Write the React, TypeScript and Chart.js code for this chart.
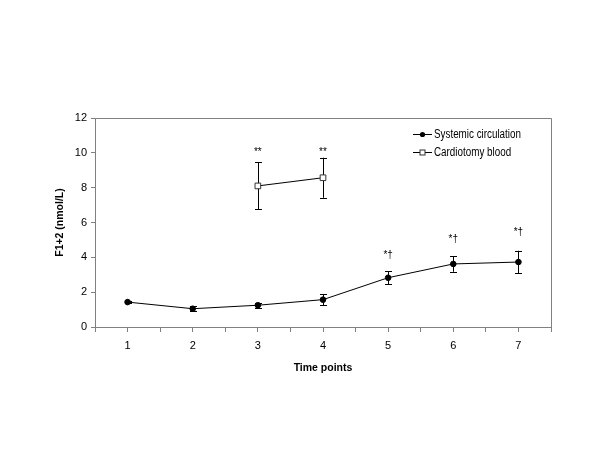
import React, { useEffect, useRef } from 'react';
import { Chart, registerables } from 'chart.js';

Chart.register(...registerables);

const timePoints = [1, 2, 3, 4, 5, 6, 7];
const systemicMean: (number | null)[] = [1.43, 1.05, 1.25, 1.57, 2.83, 3.62, 3.73];
const systemicErr: (number | null)[] = [0.08, 0.15, 0.15, 0.32, 0.37, 0.45, 0.65];
const cardiotomyMean: (number | null)[] = [null, null, 8.1, 8.57, null, null, null];
const cardiotomyErr: (number | null)[] = [null, null, 1.35, 1.15, null, null, null];
const systemicMarks = ['', '', '', '', '*†', '*†', '*†'];
const systemicMarkLevel: (number | null)[] = [null, null, null, null, 3.95, 4.9, 5.3];
const cardiotomyMarks = ['', '', '**', '**', '', '', ''];
const cardiotomyMarkLevel: (number | null)[] = [null, null, 9.87, 9.87, null, null, null];
const seriesLabels = ['Systemic circulation', 'Cardiotomy blood'];
const yMin = 0;
const yMax = 12;
const yStep = 2;
const xTitle = 'Time points';
const yTitle = 'F1+2 (nmol/L)';

const SANS = "'Liberation Sans', Arial, sans-serif";
const AXIS_GRAY = '#808080';

const toPoints = (vals: (number | null)[]) =>
  timePoints
    .map((x, i) => (vals[i] == null ? null : { x, y: vals[i] as number }))
    .filter((p) => p !== null) as { x: number; y: number }[];

const errorsBySeries = [systemicErr, cardiotomyErr];
const meansBySeries = [systemicMean, cardiotomyMean];
const marksBySeries = [systemicMarks, cardiotomyMarks];
const markLevelsBySeries = [systemicMarkLevel, cardiotomyMarkLevel];

const errorBarPlugin = {
  id: 'errorBars',
  beforeDatasetsDraw(chart: any) {
    const { ctx, scales } = chart;
    const xs = scales.x;
    const ys = scales.y;
    ctx.save();
    ctx.strokeStyle = '#000';
    ctx.lineWidth = 1;
    meansBySeries.forEach((means, s) => {
      const errs = errorsBySeries[s];
      timePoints.forEach((t, i) => {
        const m = means[i];
        const e = errs[i];
        if (m == null || e == null) return;
        const px = Math.round(xs.getPixelForValue(t)) + 0.5;
        const top = ys.getPixelForValue(m + e);
        const bot = ys.getPixelForValue(m - e);
        const cap = 3.5;
        ctx.beginPath();
        ctx.moveTo(px, top);
        ctx.lineTo(px, bot);
        ctx.moveTo(px - cap, Math.round(top) + 0.5);
        ctx.lineTo(px + cap, Math.round(top) + 0.5);
        ctx.moveTo(px - cap, Math.round(bot) + 0.5);
        ctx.lineTo(px + cap, Math.round(bot) + 0.5);
        ctx.stroke();
      });
    });
    ctx.restore();
  },
};

const decorPlugin = {
  id: 'decor',
  afterDatasetsDraw(chart: any) {
    const { ctx, scales, chartArea } = chart;
    const xs = scales.x;
    const ys = scales.y;
    ctx.save();
    // plot border (top and right)
    ctx.strokeStyle = AXIS_GRAY;
    ctx.lineWidth = 1;
    ctx.beginPath();
    ctx.moveTo(Math.round(chartArea.left) + 0.5, Math.round(chartArea.top) + 0.5);
    ctx.lineTo(Math.round(chartArea.right) + 0.5, Math.round(chartArea.top) + 0.5);
    ctx.lineTo(Math.round(chartArea.right) + 0.5, Math.round(chartArea.bottom) + 0.5);
    ctx.stroke();

    // significance marks
    ctx.fillStyle = '#000';
    ctx.font = `10px ${SANS}`;
    ctx.textAlign = 'center';
    ctx.textBaseline = 'alphabetic';
    marksBySeries.forEach((marks, s) => {
      const levels = markLevelsBySeries[s];
      timePoints.forEach((t, i) => {
        if (!marks[i] || levels[i] == null) return;
        ctx.fillText(marks[i], xs.getPixelForValue(t), ys.getPixelForValue(levels[i] as number));
      });
    });

    // legend
    const lx0 = chartArea.right - 138;
    const lx1 = chartArea.right - 119;
    const mx = (lx0 + lx1) / 2;
    seriesLabels.forEach((label, s) => {
      const y = Math.round(chartArea.top + 16 + s * 18) + 0.5;
      ctx.strokeStyle = '#000';
      ctx.lineWidth = 1;
      ctx.beginPath();
      ctx.moveTo(lx0, y);
      ctx.lineTo(lx1, y);
      ctx.stroke();
      if (s === 0) {
        ctx.fillStyle = '#000';
        ctx.beginPath();
        ctx.arc(mx, y, 2.6, 0, Math.PI * 2);
        ctx.fill();
      } else {
        ctx.fillStyle = '#fff';
        ctx.fillRect(mx - 2.5, y - 2.5, 5, 5);
        ctx.strokeStyle = '#333';
        ctx.strokeRect(mx - 2.5, y - 2.5, 5, 5);
      }
      // condensed text (Arial Narrow look)
      ctx.save();
      ctx.translate(lx1 + 2, y);
      ctx.scale(0.82, 1);
      ctx.font = `12px ${SANS}`;
      ctx.textAlign = 'left';
      ctx.textBaseline = 'middle';
      ctx.fillStyle = '#000';
      ctx.fillText(label, 0, 0);
      ctx.restore();
    });
    ctx.restore();
  },
};

export default function App() {
  const ref = useRef<HTMLCanvasElement | null>(null);

  useEffect(() => {
    if (!ref.current) return;
    const chart = new Chart(ref.current, {
      type: 'line',
      data: {
        datasets: [
          {
            label: seriesLabels[0],
            data: toPoints(systemicMean),
            borderColor: '#000',
            backgroundColor: '#000',
            borderWidth: 1,
            pointRadius: 2.8,
            pointStyle: 'circle',
            pointBackgroundColor: '#000',
            pointBorderColor: '#000',
            pointBorderWidth: 1,
            tension: 0,
          },
          {
            label: seriesLabels[1],
            data: toPoints(cardiotomyMean),
            borderColor: '#000',
            backgroundColor: '#fff',
            borderWidth: 1,
            pointRadius: 4,
            pointStyle: 'rect',
            pointBackgroundColor: '#fff',
            pointBorderColor: '#333',
            pointBorderWidth: 1,
            tension: 0,
          },
        ],
      },
      options: {
        responsive: false,
        animation: false,
        events: [],
        layout: { padding: { left: 50, top: 118, right: 49, bottom: 72 } },
        plugins: {
          legend: { display: false },
          tooltip: { enabled: false },
        },
        scales: {
          x: {
            type: 'linear',
            min: 0.5,
            max: 7.5,
            afterFit: (scale: any) => {
              scale.height = 51;
            },
            ticks: {
              stepSize: 0.5,
              autoSkip: false,
              maxRotation: 0,
              padding: 7,
              color: '#000',
              font: { family: SANS, size: 11 },
              callback: (v: any) => (Number.isInteger(Number(v)) ? String(v) : ''),
            },
            grid: {
              drawOnChartArea: false,
              drawTicks: true,
              tickLength: 5,
              color: AXIS_GRAY,
            },
            border: { display: true, color: AXIS_GRAY },
            title: {
              display: true,
              text: xTitle,
              color: '#000',
              font: { family: SANS, size: 10.5, weight: 'bold' },
              padding: 4,
            },
          },
          y: {
            type: 'linear',
            min: yMin,
            max: yMax,
            afterFit: (scale: any) => {
              scale.width = 45;
            },
            ticks: {
              stepSize: yStep,
              padding: 4,
              color: '#000',
              font: { family: SANS, size: 11 },
            },
            grid: {
              drawOnChartArea: false,
              drawTicks: true,
              tickLength: 4,
              color: AXIS_GRAY,
            },
            border: { display: true, color: AXIS_GRAY },
            title: {
              display: true,
              text: yTitle,
              color: '#000',
              font: { family: SANS, size: 10.5, weight: 'bold' },
              padding: 4,
            },
          },
        },
      },
      plugins: [errorBarPlugin, decorPlugin],
    } as any);
    return () => chart.destroy();
  }, []);

  return (
    <div style={{ position: 'fixed', left: 0, top: 0, width: 600, height: 450, background: '#fff' }}>
      <canvas ref={ref} width={600} height={450} style={{ display: 'block' }} />
    </div>
  );
}
